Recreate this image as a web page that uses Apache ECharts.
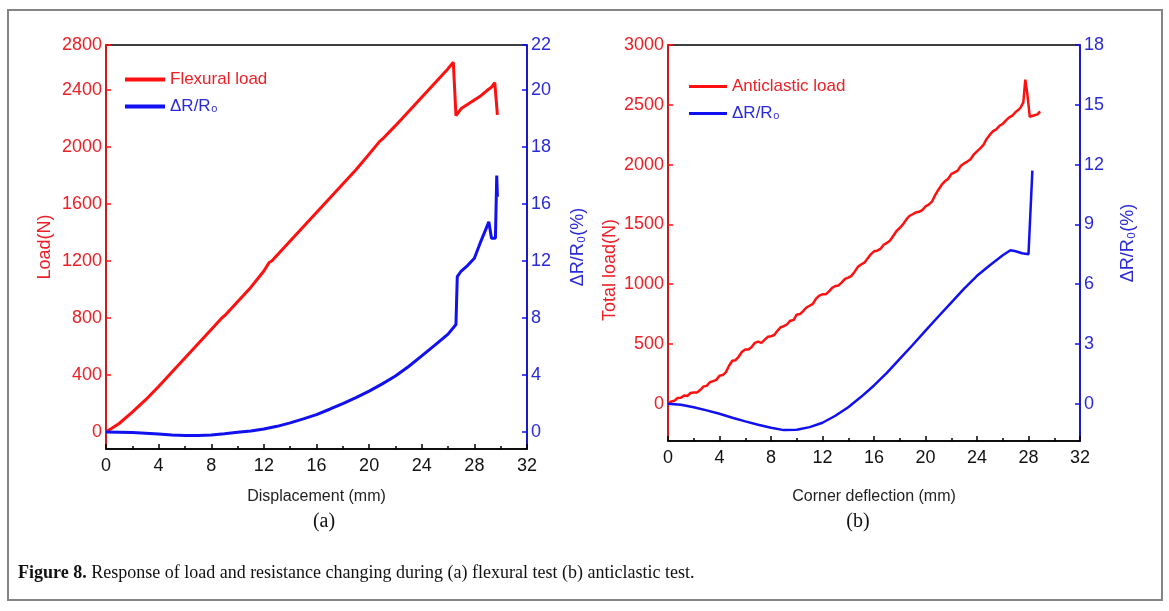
<!DOCTYPE html>
<html>
<head>
<meta charset="utf-8">
<script src="https://cdn.jsdelivr.net/npm/echarts@6/dist/echarts.min.js"></script>
<style>
html, body { margin: 0; padding: 0; background: #fff; }
#chart { width: 1169px; height: 611px; }
</style>
</head>
<body>
<div id="chart"></div>
<script>
// 两个子图：(a) 弯曲试验  (b) 反向弯曲试验
var chart = echarts.init(document.getElementById('chart'));

// (a) 载荷 - 位移
var dispLoadA = [0, 0.5, 1, 2, 3, 4, 5, 6, 7, 8, 8.8, 9, 10, 11, 12, 12.4, 12.6, 13, 14, 15, 16, 17, 18, 19, 20, 20.8, 21, 22, 23, 24, 25, 26, 26.4, 26.6, 27, 27.5, 28, 28.5, 29, 29.3, 29.55, 29.75];
var loadA = [0, 30, 60, 140, 225, 320, 420, 520, 620, 720, 800, 815, 915, 1015, 1130, 1190, 1200, 1240, 1340, 1440, 1540, 1640, 1740, 1840, 1950, 2040, 2055, 2150, 2250, 2350, 2450, 2550, 2595, 2220, 2270, 2300, 2330, 2360, 2400, 2420, 2452, 2225];

// (a) 电阻变化率 - 位移（右轴刻度单位）
var dispResA = [0, 1, 2, 3, 4, 5, 6, 7, 8, 9, 10, 11, 12, 13, 14, 15, 16, 17, 18, 19, 20, 21, 22, 23, 24, 25, 26, 26.6, 26.7, 27, 27.5, 28, 28.5, 29.1, 29.3, 29.6, 29.7, 29.75];
var resA = [0, -0.01, -0.03, -0.08, -0.14, -0.2, -0.24, -0.25, -0.2, -0.12, -0.02, 0.08, 0.21, 0.4, 0.64, 0.92, 1.22, 1.6, 2.0, 2.42, 2.87, 3.38, 3.93, 4.6, 5.34, 6.1, 6.87, 7.55, 10.9, 11.3, 11.7, 12.2, 13.4, 14.75, 13.6, 13.6, 18.0, 16.5];

// (a) 坐标轴刻度
var loadTickValsA = [0, 400, 800, 1200, 1600, 2000, 2400, 2716];
var loadTickTextA = ['0', '400', '800', '1200', '1600', '2000', '2400', '2800'];
var resTickValsA = [0, 4, 8, 12, 16, 20, 24, 27.16];
var resTickTextA = ['0', '4', '8', '12', '16', '18', '20', '22'];

// (b) 总载荷 - 角点挠度
var dispLoadB = [
    0, 0.25, 0.5, 0.75, 1, 1.25, 1.5, 1.75, 2, 2.25, 2.5, 2.75,
    3, 3.25, 3.5, 3.75, 4, 4.25, 4.5, 4.75, 5, 5.25, 5.5, 5.75,
    6, 6.25, 6.5, 6.75, 7, 7.25, 7.5, 7.75, 8, 8.25, 8.5, 8.75,
    9, 9.25, 9.5, 9.75, 10, 10.25, 10.5, 10.75, 11, 11.25, 11.5, 11.75,
    12, 12.25, 12.5, 12.75, 13, 13.25, 13.5, 13.75, 14, 14.25, 14.5, 14.75,
    15, 15.25, 15.5, 15.75, 16, 16.25, 16.5, 16.75, 17, 17.25, 17.5, 17.75,
    18, 18.25, 18.5, 18.75, 19, 19.25, 19.5, 19.75, 20, 20.25, 20.5, 20.75,
    21, 21.25, 21.5, 21.75, 22, 22.25, 22.5, 22.75, 23, 23.25, 23.5, 23.75,
    24, 24.25, 24.5, 24.75, 25, 25.25, 25.5, 25.75, 26, 26.25, 26.5, 26.75,
    27, 27.25, 27.4, 27.6, 27.75, 27.9, 28.1, 28.4, 28.7, 28.9
];
var loadB = [
    0, 20, 25, 48, 50, 70, 65, 90, 95, 95, 115, 145,
    150, 180, 190, 200, 235, 240, 265, 320, 360, 365, 395, 435,
    455, 455, 475, 510, 520, 510, 535, 560, 565, 575, 610, 640,
    650, 665, 695, 700, 745, 750, 775, 805, 820, 835, 880, 905,
    915, 915, 940, 970, 985, 990, 1015, 1045, 1055, 1070, 1105, 1145,
    1165, 1180, 1215, 1250, 1275, 1280, 1295, 1330, 1345, 1365, 1405, 1445,
    1470, 1500, 1540, 1570, 1585, 1600, 1605, 1620, 1650, 1665, 1690, 1745,
    1790, 1830, 1860, 1880, 1920, 1935, 1950, 1990, 2010, 2025, 2045, 2085,
    2110, 2135, 2165, 2215, 2250, 2280, 2295, 2325, 2340, 2370, 2395, 2410,
    2440, 2460, 2480, 2520, 2710, 2600, 2400, 2410, 2420, 2445
];

// (b) 电阻变化率
var dispResB = [0, 1, 2, 3, 4, 5, 6, 7, 8, 9, 10, 11, 12, 13, 14, 15, 16, 17, 18, 19, 20, 21, 22, 23, 24, 25, 26, 26.6, 27, 27.5, 28, 28.1, 28.3];
var resB = [0, -0.05, -0.17, -0.33, -0.5, -0.7, -0.88, -1.05, -1.2, -1.32, -1.3, -1.17, -0.95, -0.6, -0.17, 0.35, 0.92, 1.55, 2.25, 2.95, 3.67, 4.38, 5.08, 5.78, 6.42, 6.95, 7.45, 7.7, 7.65, 7.55, 7.5, 7.5, 11.7];

var loadTickValsB = [0, 500, 1000, 1500, 2000, 2500, 3000];
var resTickValsB = [0, 3, 6, 9, 12, 15, 18];

var RED = '#ff1010';
var RED_TXT = '#ec2027';
var BLUE = '#1010f0';
var BLUE_TXT = '#2a2ad6';
var SANS = "'Liberation Sans', Arial, sans-serif";
var SERIF = "'Liberation Serif', 'Times New Roman', serif";

function pairs(xs, ys) {
    return xs.map(function (x, i) { return [x, ys[i]]; });
}

function xAxisCfg(grid, name, gap) {
    return {
        gridIndex: grid, type: 'value', min: 0, max: 32, interval: 4,
        name: name, nameLocation: 'middle', nameGap: gap,
        nameTextStyle: { fontSize: 16, color: '#222', fontFamily: SANS },
        axisLine: { onZero: false, lineStyle: { color: '#000', width: 1.5 } },
        axisTick: { inside: true, length: 5, lineStyle: { color: '#000', width: 1.5 } },
        minorTick: { show: true, splitNumber: 2, length: 3, lineStyle: { color: '#000', width: 1.5 } },
        axisLabel: { color: '#111', fontSize: 18, margin: 8, fontFamily: SANS },
        splitLine: { show: false }
    };
}

function yAxisCfg(grid, pos, min, max, vals, texts, name, gap, color, txtColor, pad) {
    return {
        gridIndex: grid, type: 'value', position: pos, min: min, max: max,
        name: name, nameLocation: 'middle', nameGap: gap, nameRotate: 90,
        nameTextStyle: { fontSize: 18, color: txtColor, fontFamily: SANS, padding: pad || 0 },
        axisLine: { show: true, onZero: false, lineStyle: { color: color, width: 1.5 } },
        axisTick: { show: true, inside: true, length: 5, customValues: vals, lineStyle: { color: color, width: 1.5 } },
        axisLabel: {
            customValues: vals, color: txtColor, fontSize: 18, margin: 4, fontFamily: SANS,
            showMaxLabel: true, showMinLabel: true,
            formatter: function (v) {
                var i = vals.indexOf(v);
                return i >= 0 && texts ? texts[i] : String(v);
            }
        },
        splitLine: { show: false }
    };
}

var option = {
    animation: false,
    backgroundColor: '#fff',
    grid: [
        { left: 106, right: 642, top: 45, bottom: 162, show: true, borderColor: '#000', borderWidth: 1.5, outerBoundsMode: 'none' },
        { left: 668, right: 89, top: 45, bottom: 170, show: true, borderColor: '#000', borderWidth: 1.5, outerBoundsMode: 'none' }
    ],
    legend: [
        {
            left: 125, top: 71, padding: 0, orient: 'vertical', icon: 'rect', itemWidth: 40, itemHeight: 4, itemGap: 10,
            textStyle: { fontSize: 17, fontFamily: SANS },
            data: [
                { name: 'Flexural load', textStyle: { color: RED_TXT } },
                { name: 'ΔR/R₀', textStyle: { color: BLUE_TXT } }
            ]
        },
        {
            left: 689, top: 78, padding: 0, orient: 'vertical', icon: 'rect', itemWidth: 38, itemHeight: 3, itemGap: 10,
            textStyle: { fontSize: 17, fontFamily: SANS },
            data: [
                { name: 'Anticlastic load', textStyle: { color: RED_TXT } },
                { name: 'ΔR/R₀', textStyle: { color: BLUE_TXT } }
            ]
        }
    ],
    xAxis: [
        xAxisCfg(0, 'Displacement (mm)', 40),
        xAxisCfg(1, 'Corner deflection (mm)', 48)
    ],
    yAxis: [
        yAxisCfg(0, 'left', -119, 2716, loadTickValsA, loadTickTextA, 'Load(N)', 52, RED, RED_TXT),
        yAxisCfg(0, 'right', -1.19, 27.16, resTickValsA, resTickTextA, 'ΔR/R₀(%)', 42, BLUE, BLUE_TXT),
        yAxisCfg(1, 'left', -311, 3000, loadTickValsB, null, 'Total load(N)', 49, RED, RED_TXT, [0, 54, 0, 0]),
        yAxisCfg(1, 'right', -1.866, 18, resTickValsB, null, 'ΔR/R₀(%)', 39, BLUE, BLUE_TXT)
    ],
    series: [
        {
            type: 'line', name: 'Flexural load', xAxisIndex: 0, yAxisIndex: 0,
            data: pairs(dispLoadA, loadA), symbol: 'none',
            lineStyle: { color: RED, width: 3 }, itemStyle: { color: RED }
        },
        {
            type: 'line', name: 'ΔR/R₀', xAxisIndex: 0, yAxisIndex: 1,
            data: pairs(dispResA, resA), symbol: 'none',
            lineStyle: { color: BLUE, width: 3 }, itemStyle: { color: BLUE }
        },
        {
            type: 'line', name: 'Anticlastic load', xAxisIndex: 1, yAxisIndex: 2,
            data: pairs(dispLoadB, loadB), symbol: 'none',
            lineStyle: { color: RED, width: 2.5 }, itemStyle: { color: RED }
        },
        {
            type: 'line', name: 'ΔR/R₀', xAxisIndex: 1, yAxisIndex: 3,
            data: pairs(dispResB, resB), symbol: 'none',
            lineStyle: { color: BLUE, width: 2.5 }, itemStyle: { color: BLUE }
        }
    ],
    graphic: [
        {
            type: 'rect', silent: true, z: -10,
            shape: { x: 8, y: 10, width: 1154, height: 590 },
            style: { fill: 'none', stroke: '#858585', lineWidth: 2 }
        },
        {
            type: 'text', x: 324, y: 522, silent: true,
            style: { text: '(a)', fontSize: 20, fontFamily: SERIF, fill: '#111', align: 'center', verticalAlign: 'middle' }
        },
        {
            type: 'text', x: 858, y: 522, silent: true,
            style: { text: '(b)', fontSize: 20, fontFamily: SERIF, fill: '#111', align: 'center', verticalAlign: 'middle' }
        },
        {
            type: 'text', x: 18, y: 573, silent: true,
            style: {
                text: '{b|Figure 8.} Response of load and resistance changing during (a) flexural test (b) anticlastic test.',
                fontSize: 18, fontFamily: SERIF, fill: '#111', verticalAlign: 'middle',
                rich: { b: { fontWeight: 'bold', fontSize: 18, fontFamily: SERIF, fill: '#111' } }
            }
        }
    ]
};

chart.setOption(option);
</script>
</body>
</html>
